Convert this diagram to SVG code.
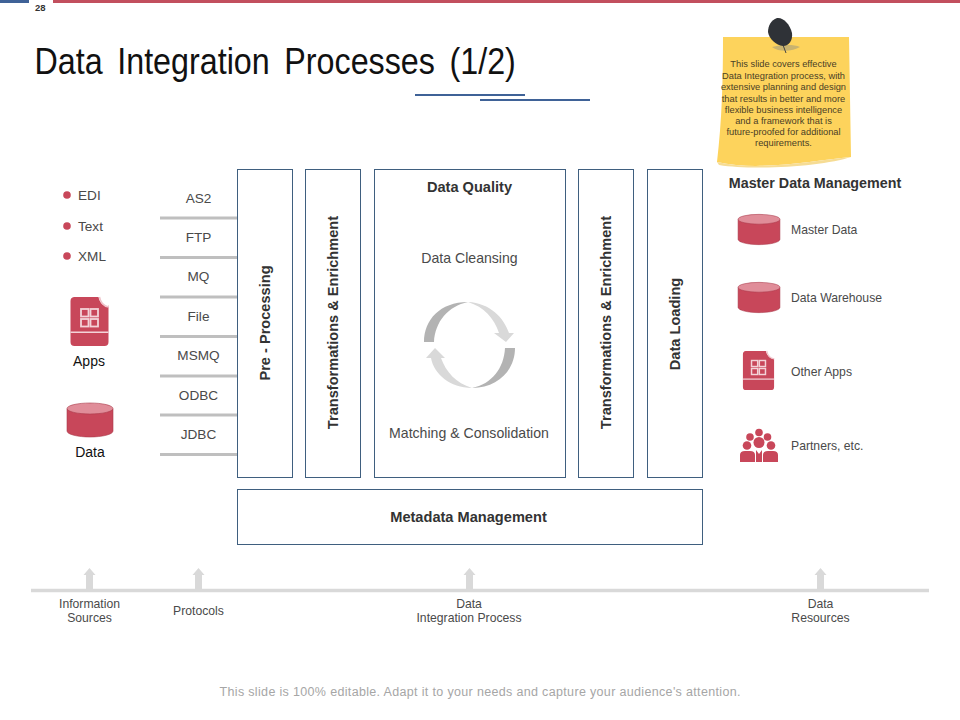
<svg xmlns="http://www.w3.org/2000/svg" width="960" height="720" viewBox="0 0 960 720">
<style>
text{font-family:"Liberation Sans",Arial,sans-serif;fill:#333}
.c{text-anchor:middle}
.box{fill:#fff;stroke:#3f5f7f;stroke-width:1}
.b{font-weight:bold;font-size:14.600px;fill:#333}
.s{font-size:12.200px;fill:#4a4a4a}
.m{font-size:13.600px;fill:#4a4a4a}
.q{font-size:14.100px;fill:#4a4a4a}
.k{font-size:14px;fill:#111}
.n{font-size:9.300px;fill:#4a4026}
.t{font-size:37px;fill:#111;word-spacing:6.500px}
.p{font-size:9.500px;font-weight:bold;fill:#333}
.f{font-size:12.500px;fill:#a6a6a6}
.rule{stroke:#bfbfbf;stroke-width:3}
.red{fill:#c8475a}
.top{fill:#e08d99}
.arr{fill:#d9d9d9}
</style>
<defs>
<g id="db">
<path class="red" stroke="#a93a4a" stroke-width=".6" d="M-23 -11V11C-23 14.500 -12 17 0 17S23 14.500 23 11V-11Z"/>
<ellipse class="top" stroke="#a93a4a" stroke-width=".6" cx="0" cy="-11.500" rx="23" ry="5.500"/>
</g>
<g id="app">
<path class="red" d="M-15.500 -24.500H11L19 -16V20.500A4 4 0 0 1 15 24.500H-15A4 4 0 0 1 -19 20.500V-20.500A4 4 0 0 1 -15.500 -24.500Z"/>
<path fill="#fff" d="M9 -24.500H19V-14.500C14 -15 10 -19 9 -24.500Z"/>
<path fill="none" stroke="#f0c4cb" stroke-width="1.500" d="M10 -24.500C11 -19 14 -15.500 19 -14.500"/>
<rect x="-19" y="10" width="38" height="1.500" fill="#f3d3d8"/>
<g fill="none" stroke="#f3d3d8" stroke-width="1.800">
<rect x="-8.500" y="-12.500" width="7.500" height="7.500"/><rect x="1" y="-12.500" width="7.500" height="7.500"/>
<rect x="-8.500" y="-2.500" width="7.500" height="7.500"/><rect x="1" y="-2.500" width="7.500" height="7.500"/>
</g>
</g>
<path id="up" class="arr" d="M0 -11L6 -4H3.500V11H-3.500V-4H-6Z"/>
</defs>

<g id="header">
<rect x="0" y="0" width="29" height="3" fill="#3f6297"/>
<rect x="53" y="0" width="907" height="3" fill="#c24f5e"/>
<text class="p" x="35" y="11">28</text>
<text class="t" transform="translate(34.500 74) scale(.872 1)" x="0" y="0">Data Integration Processes (1/2)</text>
<rect x="415" y="94" width="110" height="2" fill="#3f6297"/>
<rect x="480" y="99" width="110" height="2" fill="#3f6297"/>
</g>

<g id="note">
<path d="M723 37H849L851 157C815 160 760 172 717 162C722 120 723 80 723 37Z" fill="#fdd35c"/>
<path d="M717 162C760 172 815 160 851 157C825 166 755 171 719 165Z" fill="#f6dc94"/>
<path d="M772 47C780 45 793 44 800 47C793 51 780 53 772 47Z" fill="#c9b36f"/>
<path d="M783 45L786 53" stroke="#444" stroke-width="1" fill="none"/>
<path d="M777 18C783 17 790 24 792 33C793 40 789 46 783 46C776 45 769 39 768 32C768 26 771 20 777 18Z" fill="#2f3237"/>
<text class="c n" x="783.500" y="67">This slide covers effective</text>
<text class="c n" x="783.500" y="79">Data Integration process, with</text>
<text class="c n" x="783.500" y="90">extensive planning and design</text>
<text class="c n" x="783.500" y="102">that results in better and more</text>
<text class="c n" x="783.500" y="113">flexible business intelligence</text>
<text class="c n" x="783.500" y="124">and a framework that is</text>
<text class="c n" x="783.500" y="135">future-proofed for additional</text>
<text class="c n" x="783.500" y="146">requirements.</text>
</g>

<g id="sources">
<circle cx="67" cy="195" r="3.800" class="red"/><text class="m" x="78" y="200">EDI</text>
<circle cx="67" cy="226" r="3.800" class="red"/><text class="m" x="78" y="231">Text</text>
<circle cx="67" cy="256" r="3.800" class="red"/><text class="m" x="78" y="261">XML</text>
</g>
<g id="apps"><use href="#app" x="89.500" y="321.500"/><text class="c k" x="89" y="366">Apps</text></g>
<g id="data"><use href="#db" x="90" y="420"/><text class="c k" x="90" y="457">Data</text></g>

<g id="connectors">
<path class="rule" d="M160 218H237M160 257.500H237M160 297H237M160 336.500H237M160 376H237M160 415H237M160 454.500H237"/>
<path d="M31 590.500H929" stroke="#d9d9d9" stroke-width="3.500"/>
<use href="#up" x="89.500" y="579"/><use href="#up" x="198.500" y="579"/><use href="#up" x="469.500" y="579"/><use href="#up" x="820.500" y="579"/>
</g>

<g id="protocols">
<text class="c m" x="198.500" y="203">AS2</text>
<text class="c m" x="198.500" y="242">FTP</text>
<text class="c m" x="198.500" y="281">MQ</text>
<text class="c m" x="198.500" y="321">File</text>
<text class="c m" x="198.500" y="360">MSMQ</text>
<text class="c m" x="198.500" y="400">ODBC</text>
<text class="c m" x="198.500" y="439">JDBC</text>
</g>

<g id="pre-processing"><rect class="box" x="237.500" y="169.500" width="55" height="308"/><text class="c b" transform="translate(269.500 323) rotate(-90)">Pre - Processing</text></g>
<g id="transform-1"><rect class="box" x="305.500" y="169.500" width="55" height="308"/><text class="c b" transform="translate(338 322.500) rotate(-90)">Transformations &amp; Enrichment</text></g>
<g id="data-quality">
<rect class="box" x="374.500" y="169.500" width="191" height="308"/>
<text class="c b" x="469.500" y="192">Data Quality</text>
<text class="c q" x="469.500" y="263">Data Cleansing</text>
<text class="c q" x="469" y="438">Matching &amp; Consolidation</text>
<path fill="#b3b3b3" d="M424 342C424 320 440 302 468 302C448 306 435 322 434 342Z"/>
<path fill="#d9d9d9" d="M468 302C490 303 504 318 509 333H514L506 342L494 333H499C494 318 484 307 468 302Z"/>
<path fill="#b3b3b3" d="M515 348C515 370 498 388 472 388C492 384 504 368 505 348Z"/>
<path fill="#d9d9d9" d="M472 388C450 388 434 374 431 358H426L435 348L445 358H441C446 372 456 383 472 388Z"/>
</g>
<g id="transform-2"><rect class="box" x="578.500" y="169.500" width="55" height="308"/><text class="c b" transform="translate(611 322.500) rotate(-90)">Transformations &amp; Enrichment</text></g>
<g id="data-loading"><rect class="box" x="647.500" y="169.500" width="55" height="308"/><text class="c b" transform="translate(680 324) rotate(-90)">Data Loading</text></g>
<g id="metadata"><rect class="box" x="237.500" y="489.500" width="465" height="55"/><text class="c b" x="468.500" y="522">Metadata Management</text></g>

<g id="master-data-management">
<text class="c b" x="815" y="188" style="font-size:14.300px">Master Data Management</text>
<g id="master-data"><use href="#db" transform="translate(759 229.500) scale(.91 .89)"/><text class="s" x="791" y="234">Master Data</text></g>
<g id="data-warehouse"><use href="#db" transform="translate(759 297.500) scale(.91 .89)"/><text class="s" x="791" y="302">Data Warehouse</text></g>
<g id="other-apps"><use href="#app" transform="translate(758.500 370.500) scale(.82 .8)"/><text class="s" x="791" y="376">Other Apps</text></g>
<g id="partners">
<g class="red">
<circle cx="759" cy="432.500" r="3.800"/><circle cx="750" cy="437" r="3.800"/><circle cx="767.500" cy="437" r="3.800"/>
<circle cx="759" cy="442.500" r="5.500"/><circle cx="747" cy="445.500" r="4.300"/><circle cx="771" cy="445.500" r="4.300"/>
<path d="M740 462V455Q740 451 745 451H750Q755 451 755 455V462ZM763 462V455Q763 451 768 451H773Q778 451 778 455V462ZM756 462V450L759 454L762 450V462Z"/>
</g>
<text class="s" x="791" y="450">Partners, etc.</text>
</g>
</g>

<g id="axis-labels">
<text class="c s" x="89.500" y="608">Information</text><text class="c s" x="89.500" y="622">Sources</text>
<text class="c s" x="198.500" y="615">Protocols</text>
<text class="c s" x="469" y="608">Data</text><text class="c s" x="469" y="622">Integration Process</text>
<text class="c s" x="820.500" y="608">Data</text><text class="c s" x="820.500" y="622">Resources</text>
</g>

<text id="footer" class="c f" x="480" y="696" textLength="521" lengthAdjust="spacing">This slide is 100% editable. Adapt it to your needs and capture your audience's attention.</text>
</svg>
